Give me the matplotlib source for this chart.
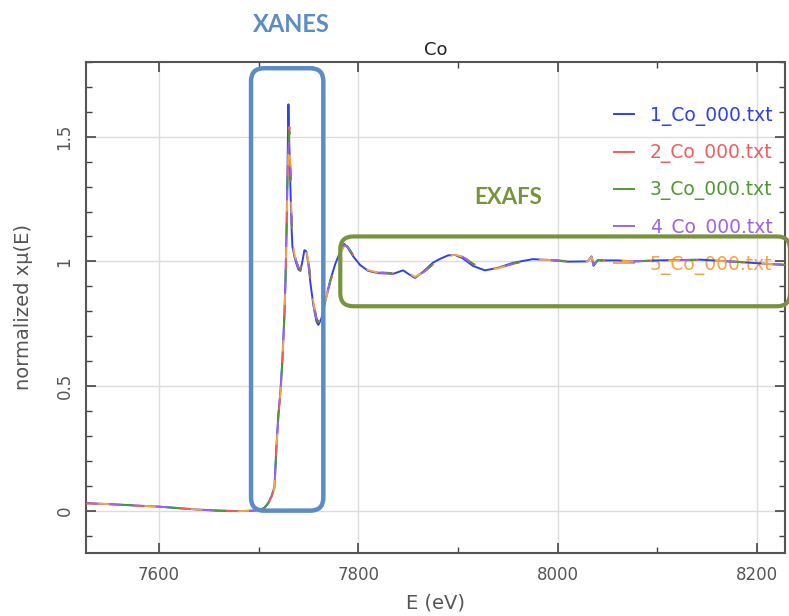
import numpy as np
import matplotlib
matplotlib.use("Agg")
import matplotlib.pyplot as plt
from matplotlib.patches import FancyBboxPatch
from matplotlib.lines import Line2D
from matplotlib.ticker import MultipleLocator
from matplotlib.transforms import IdentityTransform

# energy grid shared by all scans (eV)
energy = [7527, 7545, 7560, 7580, 7600, 7620, 7640, 7660, 7680, 7695,
          7702, 7706, 7710, 7713, 7716, 7718, 7720, 7722, 7724, 7726,
          7727, 7728, 7729, 7730, 7731, 7732, 7733, 7734, 7736, 7738,
          7740, 7742, 7744, 7746, 7748, 7750, 7752, 7755, 7758, 7760,
          7763, 7767, 7772, 7777, 7782, 7786, 7789, 7795, 7802, 7810,
          7820, 7835, 7845, 7851, 7857, 7865, 7875, 7882, 7890, 7897,
          7905, 7915, 7927, 7940, 7955, 7975, 7990, 8010, 8030, 8034,
          8036, 8040, 8060, 8076, 8100, 8143, 8180, 8210, 8232]

# normalized absorption for the five Co scans
mu_1 = [0.030, 0.027, 0.024, 0.020, 0.016, 0.010, 0.004, 0.000, -0.002, 0.000,
        0.004, 0.012, 0.032, 0.058, 0.095, 0.260, 0.390, 0.480, 0.610, 0.790,
        0.920, 1.100, 1.350, 1.630, 1.450, 1.300, 1.150, 1.060, 1.020, 0.990,
        0.968, 0.962, 1.000, 1.045, 1.040, 0.990, 0.915, 0.825, 0.760, 0.745,
        0.770, 0.840, 0.925, 0.990, 1.040, 1.070, 1.058, 1.020, 0.985, 0.962,
        0.953, 0.950, 0.964, 0.948, 0.934, 0.958, 0.995, 1.010, 1.024, 1.026,
        1.012, 0.982, 0.964, 0.974, 0.994, 1.009, 1.006, 0.999, 1.000, 1.020,
        0.982, 1.004, 1.004, 1.000, 1.004, 1.007, 0.998, 0.990, 0.985]

mu_2 = [0.029, 0.026, 0.023, 0.019, 0.015, 0.009, 0.004, 0.000, -0.002, 0.000,
        0.003, 0.010, 0.030, 0.055, 0.090, 0.250, 0.380, 0.470, 0.600, 0.780,
        0.900, 1.080, 1.300, 1.480, 1.540, 1.400, 1.210, 1.090, 1.030, 1.000,
        0.975, 0.966, 0.995, 1.040, 1.046, 1.002, 0.932, 0.842, 0.772, 0.756,
        0.776, 0.840, 0.920, 0.980, 1.030, 1.064, 1.060, 1.025, 0.990, 0.965,
        0.955, 0.952, 0.966, 0.952, 0.938, 0.955, 0.988, 1.005, 1.020, 1.027,
        1.018, 0.990, 0.968, 0.972, 0.990, 1.007, 1.006, 1.000, 1.000, 1.015,
        0.988, 1.004, 1.003, 1.000, 1.003, 1.006, 0.998, 0.990, 0.985]

mu_3 = [0.030, 0.027, 0.024, 0.020, 0.016, 0.010, 0.004, 0.000, -0.002, 0.000,
        0.003, 0.010, 0.030, 0.056, 0.090, 0.250, 0.380, 0.470, 0.600, 0.780,
        0.900, 1.090, 1.290, 1.460, 1.520, 1.390, 1.200, 1.090, 1.030, 1.000,
        0.976, 0.968, 0.998, 1.045, 1.048, 1.003, 0.934, 0.845, 0.774, 0.758,
        0.778, 0.842, 0.922, 0.982, 1.032, 1.066, 1.061, 1.026, 0.991, 0.966,
        0.956, 0.953, 0.967, 0.953, 0.939, 0.956, 0.988, 1.004, 1.019, 1.026,
        1.018, 0.991, 0.969, 0.973, 0.991, 1.008, 1.007, 1.001, 1.001, 1.016,
        0.987, 1.005, 1.003, 1.001, 1.003, 1.006, 0.998, 0.990, 0.985]

mu_4 = [0.030, 0.027, 0.024, 0.020, 0.016, 0.010, 0.004, 0.000, -0.002, 0.000,
        0.003, 0.010, 0.030, 0.055, 0.090, 0.250, 0.380, 0.470, 0.600, 0.780,
        0.900, 1.100, 1.300, 1.450, 1.505, 1.385, 1.200, 1.090, 1.030, 1.000,
        0.975, 0.965, 0.995, 1.040, 1.045, 1.000, 0.930, 0.840, 0.770, 0.755,
        0.775, 0.840, 0.920, 0.980, 1.030, 1.065, 1.060, 1.025, 0.990, 0.965,
        0.955, 0.952, 0.966, 0.952, 0.938, 0.955, 0.988, 1.005, 1.020, 1.027,
        1.018, 0.990, 0.968, 0.972, 0.990, 1.007, 1.006, 1.000, 1.000, 1.018,
        0.985, 1.004, 1.003, 1.000, 1.003, 1.006, 0.998, 0.990, 0.985]

mu_5 = [0.030, 0.027, 0.024, 0.020, 0.016, 0.010, 0.004, 0.000, -0.002, 0.000,
        0.003, 0.010, 0.030, 0.055, 0.090, 0.250, 0.380, 0.470, 0.600, 0.780,
        0.900, 1.100, 1.300, 1.450, 1.500, 1.380, 1.200, 1.090, 1.030, 1.000,
        0.975, 0.965, 0.995, 1.040, 1.045, 1.000, 0.930, 0.840, 0.770, 0.755,
        0.775, 0.840, 0.920, 0.980, 1.030, 1.065, 1.060, 1.025, 0.990, 0.965,
        0.955, 0.952, 0.966, 0.952, 0.938, 0.955, 0.988, 1.005, 1.020, 1.027,
        1.018, 0.990, 0.968, 0.972, 0.990, 1.007, 1.006, 1.000, 1.000, 1.018,
        0.985, 1.004, 1.003, 1.000, 1.003, 1.006, 0.998, 0.990, 0.985]

labels = ["1_Co_000.txt", "2_Co_000.txt", "3_Co_000.txt",
          "4_Co_000.txt", "5_Co_000.txt"]
colors = ["#2f42e6", "#ee5f5f", "#4f9a32", "#a064e2", "#f7a445"]
scans = [mu_1, mu_2, mu_3, mu_4, mu_5]

# region boxes: (E_min, E_max, mu_min, mu_max)
xanes_box = (7692.5, 7765.0, 0.0, 1.775)
exafs_box = (7782.0, 8233.0, 0.82, 1.10)

grey = "#555555"

fig = plt.figure(figsize=(7.89, 6.16), dpi=100)
ax = fig.add_axes([86 / 789, 1 - 553 / 616, 699 / 789, 491 / 616])

# overlay the scans with staggered dashes so every colour shows through
for i, (mu, c) in enumerate(zip(scans, colors)):
    if i == 0:
        ax.plot(energy, mu, color=c, lw=1.4, zorder=3)
    else:
        ax.plot(energy, mu, color=c, lw=1.4, zorder=3 + i,
                linestyle=(6 * (i - 1), (6, 18)))

ax.set_xlim(7527, 8228)
ax.set_ylim(-0.17, 1.8)
ax.xaxis.set_major_locator(MultipleLocator(200))
ax.xaxis.set_minor_locator(MultipleLocator(100))
ax.yaxis.set_major_locator(MultipleLocator(0.5))
ax.yaxis.set_minor_locator(MultipleLocator(0.1))
ax.set_yticks([0, 0.5, 1, 1.5])
ax.set_yticklabels(["0", "0.5", "1", "1.5"], rotation=90, va="center")
ax.tick_params(which="both", direction="in", top=True, right=True,
               colors="#444444", labelcolor=grey, labelsize=12)
ax.tick_params(which="major", length=7, width=1.2, pad=9)
ax.tick_params(which="minor", length=4, width=1.0)
ax.grid(True, which="major", color="#dcdcdc", lw=1.0)
ax.set_axisbelow(True)
for s in ax.spines.values():
    s.set_color("#555555")
    s.set_linewidth(1.5)

ax.set_title("Co", fontsize=13, color="#222222", pad=5)
ax.set_xlabel("E (eV)", fontsize=14, color=grey, labelpad=7)
ax.set_ylabel("normalized xμ(E)", fontsize=14, color=grey, labelpad=16)

handles = [Line2D([], [], color=c, lw=1.4) for c in colors]
leg = ax.legend(handles, labels, loc="upper left", frameon=False,
                bbox_to_anchor=(597 / 789, 1 - 89 / 616),
                bbox_transform=fig.transFigure, fontsize=13.5,
                handlelength=1.07, handletextpad=0.85, labelspacing=0.92,
                labelcolor=colors)
leg.set_zorder(2)

# rounded boxes marking the two spectral regions, drawn in pixel space
fig.canvas.draw()
def add_box(bounds, color, lw):
    x0, y0 = ax.transData.transform((bounds[0], bounds[2]))
    x1, y1 = ax.transData.transform((bounds[1], bounds[3]))
    box = FancyBboxPatch((x0, y0), x1 - x0, y1 - y0,
                         boxstyle="round,pad=0,rounding_size=13",
                         transform=IdentityTransform(), fill=False,
                         edgecolor=color, lw=lw, zorder=10)
    fig.patches.append(box)
    return box

add_box(xanes_box, "#5b8cc6", 3.2)
add_box(exafs_box, "#77933c", 3.0)

fig.text(291 / 789, 1 - 25 / 616, "XANES", fontsize=17, fontweight="bold",
         family="Lato", color="#5b8cc6", ha="center", va="center")
fig.text(508 / 789, 1 - 198 / 616, "EXAFS", fontsize=16, fontweight="bold",
         family="Lato", color="#77933c", ha="center", va="center")

fig.savefig("out.png", dpi=100)
